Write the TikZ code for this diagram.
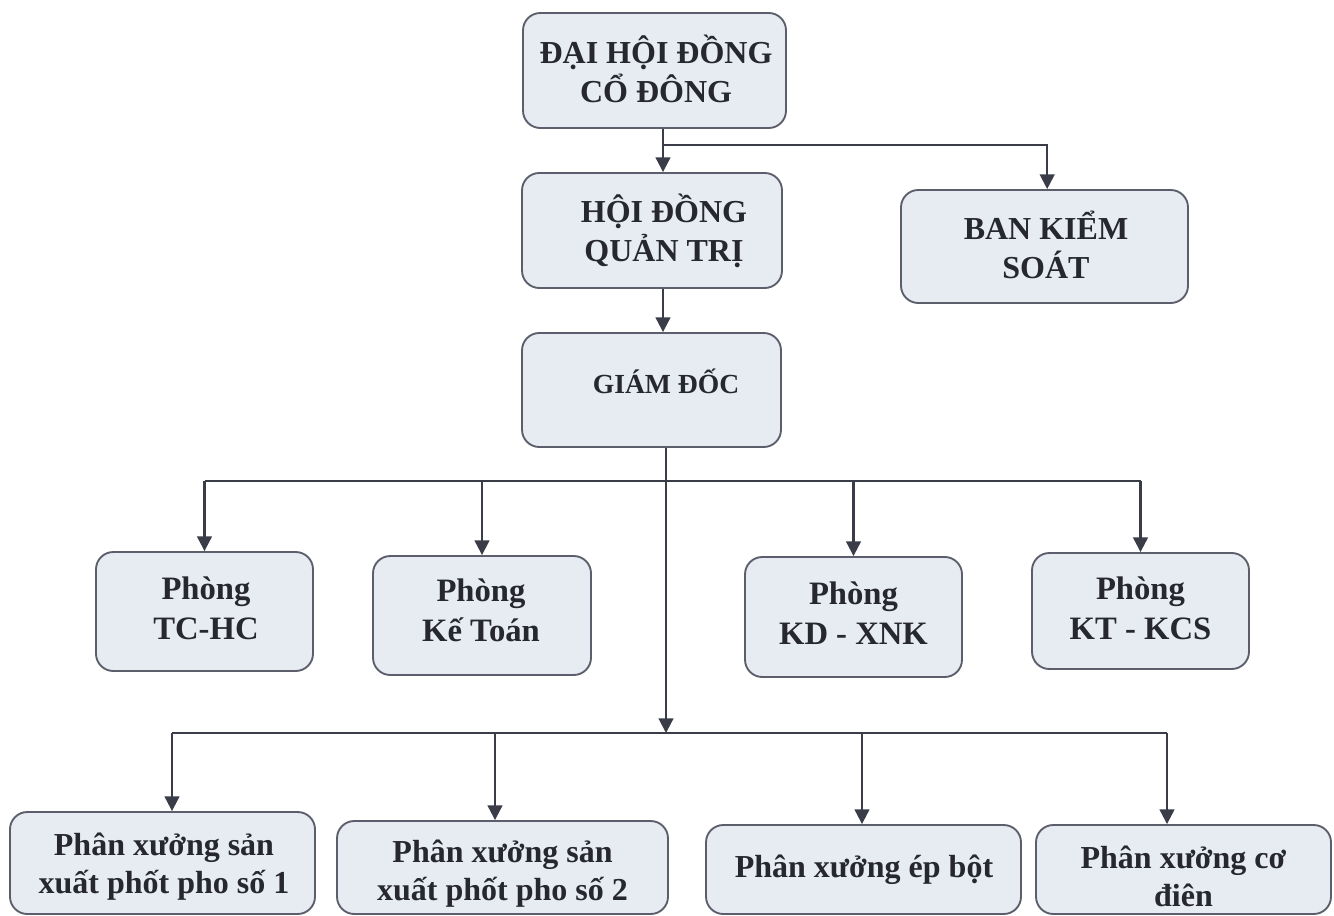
\documentclass[tikz,border=0pt]{standalone}
\usepackage{fontspec}
\setmainfont{Liberation Serif}
\usetikzlibrary{arrows.meta}
\definecolor{boxfill}{HTML}{E7EBF2}
\definecolor{boxline}{HTML}{5C5F6B}
\definecolor{linec}{HTML}{3A3C48}
\definecolor{txt}{HTML}{26272F}
\tikzset{
  orgbox/.style={draw=boxline, line width=1.4pt, fill=boxfill, rounded corners=13pt, inner sep=0pt},
  conn/.style={draw=linec, line width=1.6pt},
  arr/.style={conn, -{Triangle[length=11pt,width=11pt]}},
  bigtxt/.style={align=center, text=txt, inner sep=0pt, font=\bfseries\fontsize{24}{29}\selectfont},
  midtxt/.style={align=center, text=txt, inner sep=0pt, font=\bfseries\fontsize{24.5}{30}\selectfont},
  lowtxt/.style={align=center, text=txt, inner sep=0pt, font=\bfseries\fontsize{24}{28.5}\selectfont},
  gdtxt/.style={align=center, text=txt, inner sep=0pt, font=\bfseries\fontsize{20.7}{24}\selectfont},
}
\begin{document}
\begin{tikzpicture}[x=0.75pt,y=-0.75pt]
\useasboundingbox (0,0) rectangle (1334,916);
\fill[white] (0,0) rectangle (1334,916);

% boxes
\node[orgbox, minimum width=197.25pt, minimum height=86.25pt] (dh) at (654.5,70.5) {};
\node[orgbox, minimum width=195pt, minimum height=86.25pt] (hd) at (652,230.5) {};
\node[orgbox, minimum width=215.25pt, minimum height=84.75pt] (bks) at (1044.5,246.5) {};
\node[orgbox, minimum width=194.25pt, minimum height=85.5pt] (gd) at (651.5,390) {};
\node[orgbox, minimum width=162.75pt, minimum height=89.25pt] (p1) at (204.5,611.5) {};
\node[orgbox, minimum width=163.5pt, minimum height=89.25pt] (p2) at (482,615.5) {};
\node[orgbox, minimum width=162.75pt, minimum height=90pt] (p3) at (853.5,617) {};
\node[orgbox, minimum width=162.75pt, minimum height=87pt] (p4) at (1140.5,611) {};
\node[orgbox, minimum width=228.75pt, minimum height=76.5pt] (x1) at (162.5,863) {};
\node[orgbox, minimum width=248.25pt, minimum height=69.75pt] (x2) at (502.5,867.5) {};
\node[orgbox, minimum width=236.25pt, minimum height=66.75pt] (x3) at (863.5,869.5) {};
\node[orgbox, minimum width=221.25pt, minimum height=66.75pt] (x4) at (1183.5,869.5) {};

% texts
\node[bigtxt] (dht) at (656,69) {ĐẠI HỘI ĐỒNG\\CỔ ĐÔNG};
\node[bigtxt] (hdt) at (664,231) {HỘI ĐỒNG\\QUẢN TRỊ};
\node[bigtxt] (bkst) at (1046,245) {BAN KIỂM\\SOÁT};
\node[gdtxt] (gdt) at (666,381) {GIÁM ĐỐC};
\node[midtxt] (p1t) at (206,608) {Phòng\\TC-HC};
\node[midtxt] (p2t) at (481,610) {Phòng\\Kế Toán};
\node[midtxt] (p3t) at (853.5,613.5) {Phòng\\KD - XNK};
\node[midtxt] (p4t) at (1140.5,608.5) {Phòng\\KT - KCS};
\node[lowtxt] (x1t) at (164,867) {Phân xưởng sản\\xuất phốt pho số 1};
\node[lowtxt] (x2t) at (502.5,874) {Phân xưởng sản\\xuất phốt pho số 2};
\node[lowtxt] (x3t) at (864,870) {Phân xưởng ép bột};
\node[lowtxt] (x4t) at (1183.5,876) {Phân xưởng cơ\\điên};

% junction coordinates
\coordinate (j1) at (663,145);
\coordinate (j2) at (663,300);
\coordinate (h1) at (0,481);
\coordinate (j3) at (666,733);
\coordinate (a1) at (172,733);
\coordinate (a2) at (495,733);
\coordinate (a3) at (862,733);
\coordinate (a4) at (1167,733);

% top connectors
\draw[arr] (dh.south -| j1) -- (hd.north -| j1);
\draw[arr] (j1) -| ([xshift=2pt]bks.north);
\draw[arr] (hd.south -| j2) -- (gd.north -| j2);

% giam doc to phong
\draw[conn] (p1.north |- h1) -- (p4.north |- h1);
\draw[arr] (p1.north |- h1) -- (p1.north);
\draw[arr] (p2.north |- h1) -- (p2.north);
\draw[arr] (p3.north |- h1) -- (p3.north);
\draw[arr] (p4.north |- h1) -- (p4.north);
\draw[arr] (gd.south -| j3) -- (j3);

% phan xuong
\draw[conn] (a1) -- (a4);
\draw[arr] (a1) -- (x1.north -| a1);
\draw[arr] (a2) -- (x2.north -| a2);
\draw[arr] (a3) -- (x3.north -| a3);
\draw[arr] (a4) -- (x4.north -| a4);
\end{tikzpicture}
\end{document}
